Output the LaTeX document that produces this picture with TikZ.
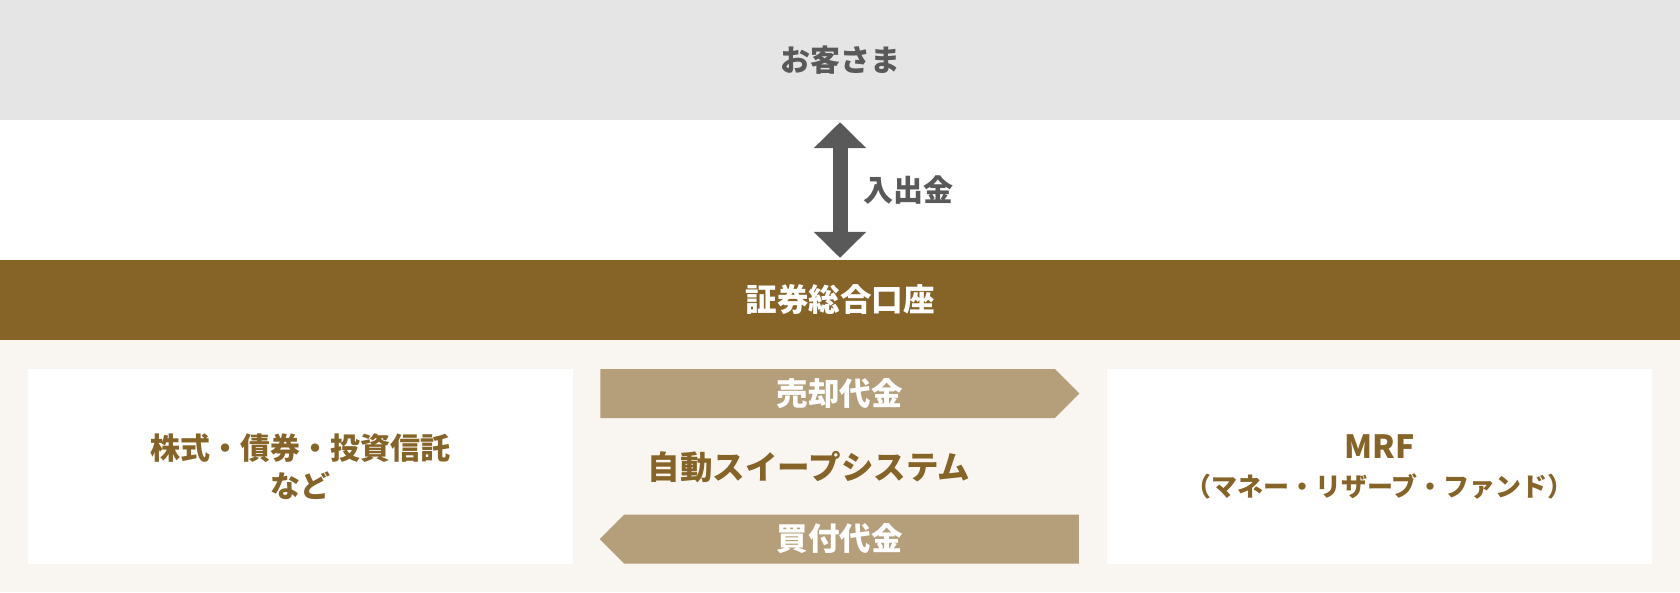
\documentclass[tikz,border=0pt]{standalone}
\usepackage{fontspec}
\setmainfont{Noto Sans CJK JP}
\usepackage{xcolor}
\usetikzlibrary{positioning,shapes.symbols}
\usetikzlibrary{arrows.meta}

\definecolor{guestgray}{HTML}{E5E5E5}
\definecolor{labelgray}{HTML}{595959}
\definecolor{acctbrown}{HTML}{866327}
\definecolor{panelbeige}{HTML}{F9F5F0}
\definecolor{flowtan}{HTML}{B59E7A}

\begin{document}
\begin{tikzpicture}[
	  x=1pt, y=-1pt,
	  %style for the double arrow
	  arrw/.style={{Triangle[width=51pt,length=26pt]}-{Triangle[width=51pt,length=26pt]}, line width=15pt, draw=labelgray},
	  % style for the full width bands
	  band/.style={rectangle, minimum width=1680pt, inner sep=0pt, font=\bfseries\fontsize{30pt}{36pt}\selectfont},
	  % style for the white boxes
	  box/.style={rectangle, fill=white, minimum width=545pt, minimum height=195pt, inner sep=0pt, align=center, text=acctbrown, font=\bfseries\fontsize{30pt}{38pt}\selectfont},
	  % style for the money flows
	  flow/.style={signal, signal pointer angle=90, fill=flowtan, text=white, minimum width=479pt, minimum height=49pt, inner sep=0pt, font=\bfseries\fontsize{31.5pt}{36pt}\selectfont}]
	  \useasboundingbox (0,0) rectangle (1680,592);
	  \fill[panelbeige] (0,340) rectangle (1680,592);

	  %nodes
	  \node[band, fill=guestgray, text=labelgray, minimum height=120pt](guest) at (840,60){お客さま};
	  \node[band, fill=acctbrown, text=white, minimum height=80pt, font=\bfseries\fontsize{31.5pt}{36pt}\selectfont](account) at (840,300){証券総合口座};
	  \node[box](stocks) at (300,466.5){株式・債券・投資信託\\など};
	  \node[box](mrf) at (1379.5,466.5){{\fontsize{32pt}{38pt}\selectfont MRF}\\{\fontsize{26pt}{38pt}\selectfont （マネー・リザーブ・ファンド）}};
	  \node[flow, signal to=east](sell) at (827.5,393.5){\hspace*{24pt}売却代金};
	  \node[flow, signal to=west](buy) at (851.5,539){買付代金\hspace*{24pt}};
	  \node[text=acctbrown, font=\bfseries\fontsize{32.5pt}{36pt}\selectfont](sweep) at (809,467){自動スイープシステム};

	  %edges
	  \draw[arrw]([yshift=-2pt]guest.south -| 840,0) -- node[right=13pt, text=labelgray, font=\bfseries\fontsize{30pt}{36pt}\selectfont]{入出金} ([yshift=2pt]account.north -| 840,0);
\end{tikzpicture}
\end{document}
